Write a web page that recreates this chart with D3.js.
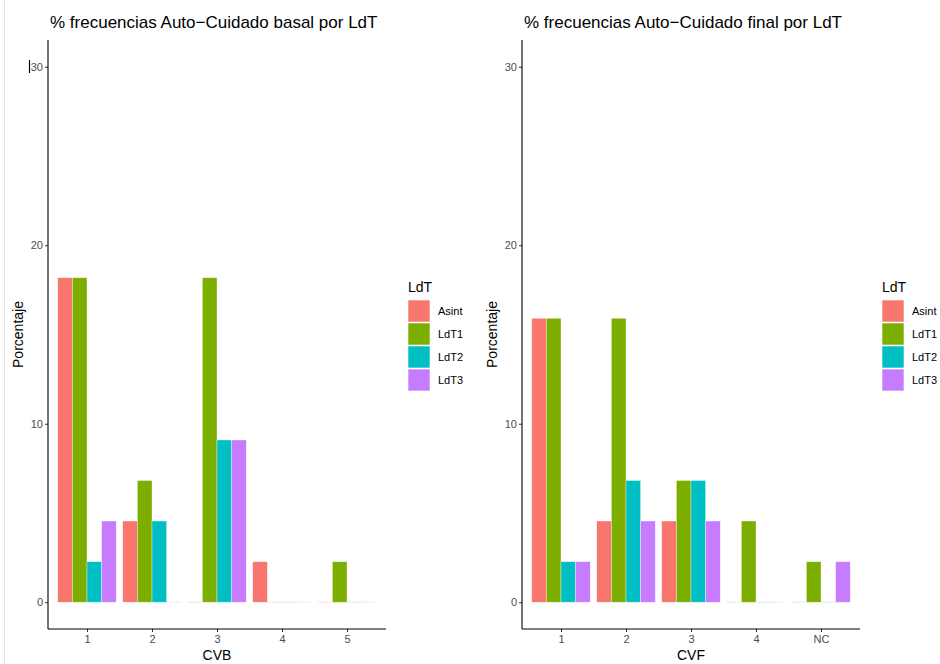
<!DOCTYPE html>
<html>
<head>
<meta charset="utf-8">
<script src="https://cdn.jsdelivr.net/npm/d3@7"></script>
<style>
  body { margin: 0; background: #fff; }
  svg { font-family: "Liberation Sans", Arial, sans-serif; }
</style>
</head>
<body>
<div id="chart"></div>
<script>
// groups (legend) and colours
const groups = ["Asint", "LdT1", "LdT2", "LdT3"];
const colors = ["#F8766D", "#7CAE00", "#00BFC4", "#C77CFF"];
const yTicks = [0, 10, 20, 30];

// basal panel
const cvbCats = ["1", "2", "3", "4", "5"];
const cvbAsint = [18.18, 4.55, 0, 2.27, 0];
const cvbLdT1 = [18.18, 6.82, 18.18, 0, 2.27];
const cvbLdT2 = [2.27, 4.55, 9.09, 0, 0];
const cvbLdT3 = [4.55, 0, 9.09, 0, 0];

// final panel
const cvfCats = ["1", "2", "3", "4", "NC"];
const cvfAsint = [15.91, 4.55, 4.55, 0, 0];
const cvfLdT1 = [15.91, 15.91, 6.82, 4.55, 2.27];
const cvfLdT2 = [2.27, 6.82, 6.82, 0, 0];
const cvfLdT3 = [2.27, 4.55, 4.55, 0, 2.27];

const svg = d3.select("#chart").append("svg")
    .attr("width", 940)
    .attr("height", 664);

// faint border + cursor artefact from the screenshot
svg.append("line").attr("x1", 4.5).attr("x2", 4.5).attr("y1", 0).attr("y2", 664)
    .attr("stroke", "#e6e6e6");
svg.append("line").attr("x1", 29.5).attr("x2", 29.5).attr("y1", 60).attr("y2", 73)
    .attr("stroke", "#000").attr("stroke-width", 1.2);

function panel(x0, title, xTitle, cats, series) {
    const left = x0, right = x0 + 338, top = 40, bottom = 629;
    const g = svg.append("g");

    const n = cats.length;
    const unit = (right - left) / (n - 1 + 1.2);
    const x = d3.scalePoint().domain(cats)
        .range([left + 0.6 * unit, right - 0.6 * unit]);
    const y = d3.scaleLinear().domain([-1.5, 31.5]).range([bottom, top]);
    const inner = d3.scaleBand().domain(groups).range([-0.45 * unit, 0.45 * unit]);

    const rows = [];
    cats.forEach((c, i) => {
        groups.forEach((grp, j) => {
            rows.push({ cat: c, grp: grp, v: series[j][i], col: colors[j] });
        });
    });

    g.selectAll("rect.bar").data(rows.filter(d => d.v > 0)).enter().append("rect")
        .attr("class", "bar")
        .attr("x", d => x(d.cat) + inner(d.grp))
        .attr("width", inner.bandwidth())
        .attr("y", d => y(d.v))
        .attr("height", d => y(0) - y(d.v))
        .attr("fill", d => d.col)
        .attr("stroke", "#fff")
        .attr("stroke-opacity", 0.6)
        .attr("stroke-width", 0.6);

    g.selectAll("line.zero").data(rows.filter(d => d.v === 0)).enter().append("line")
        .attr("class", "zero")
        .attr("x1", d => x(d.cat) + inner(d.grp))
        .attr("x2", d => x(d.cat) + inner(d.grp) + inner.bandwidth())
        .attr("y1", y(0)).attr("y2", y(0))
        .attr("stroke", d => d.col)
        .attr("stroke-opacity", 0.15)
        .attr("stroke-width", 1.5);

    // axes
    const ya = g.append("g").attr("transform", `translate(${left},0)`)
        .call(d3.axisLeft(y).tickValues(yTicks).tickSize(3).tickPadding(2));
    ya.select(".domain").remove();
    ya.selectAll(".tick line").attr("stroke", "#333");
    ya.selectAll(".tick text").attr("fill", "#4d4d4d").style("font-size", "11px");

    const xa = g.append("g").attr("transform", `translate(0,${bottom})`)
        .call(d3.axisBottom(x).tickSize(3).tickPadding(3));
    xa.select(".domain").remove();
    xa.selectAll(".tick line").attr("stroke", "#333");
    xa.selectAll(".tick text").attr("fill", "#4d4d4d").style("font-size", "11px");

    g.append("line").attr("x1", left).attr("x2", left).attr("y1", top).attr("y2", bottom)
        .attr("stroke", "#000").attr("stroke-width", 1.1);
    g.append("line").attr("x1", left).attr("x2", right).attr("y1", bottom).attr("y2", bottom)
        .attr("stroke", "#000").attr("stroke-width", 1.1);

    g.append("text").attr("x", left + 2).attr("y", 28)
        .style("font-size", "17px").attr("fill", "#000").text(title);

    g.append("text").attr("x", (left + right) / 2).attr("y", 660)
        .attr("text-anchor", "middle").style("font-size", "14px").attr("fill", "#000")
        .text(xTitle);

    g.append("text")
        .attr("transform", `translate(${left - 25},${(top + bottom) / 2}) rotate(-90)`)
        .attr("text-anchor", "middle").style("font-size", "14px").attr("fill", "#000")
        .text("Porcentaje");

    // legend
    const lx = right + 22;
    g.append("text").attr("x", lx).attr("y", 292)
        .style("font-size", "14px").attr("fill", "#000").text("LdT");
    groups.forEach((grp, j) => {
        g.append("rect").attr("x", lx).attr("y", 300 + j * 23)
            .attr("width", 22).attr("height", 22)
            .attr("fill", colors[j]).attr("stroke", "#fff").attr("stroke-width", 0.6);
        g.append("text").attr("x", lx + 30).attr("y", 300 + j * 23 + 15)
            .style("font-size", "11px").attr("fill", "#000").text(grp);
    });
}

panel(48, "% frecuencias Auto\u2212Cuidado basal por LdT", "CVB", cvbCats,
    [cvbAsint, cvbLdT1, cvbLdT2, cvbLdT3]);
panel(522, "% frecuencias Auto\u2212Cuidado final por LdT", "CVF", cvfCats,
    [cvfAsint, cvfLdT1, cvfLdT2, cvfLdT3]);
</script>
</body>
</html>
